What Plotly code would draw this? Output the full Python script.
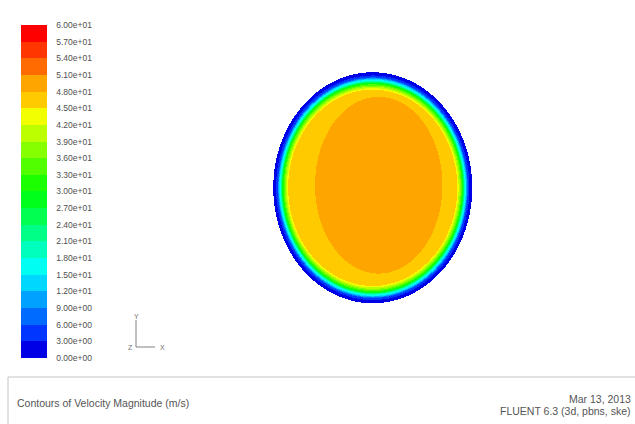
import numpy as np
import plotly.graph_objects as go

W, H = 635, 424

# ---------------- data ----------------
tick_values = [0, 3, 6, 9, 12, 15, 18, 21, 24, 27, 30, 33, 36, 39, 42, 45, 48, 51, 54, 57, 60]
tick_labels = ["0.00e+00", "3.00e+00", "6.00e+00", "9.00e+00", "1.20e+01", "1.50e+01",
               "1.80e+01", "2.10e+01", "2.40e+01", "2.70e+01", "3.00e+01", "3.30e+01",
               "3.60e+01", "3.90e+01", "4.20e+01", "4.50e+01", "4.80e+01", "5.10e+01",
               "5.40e+01", "5.70e+01", "6.00e+01"]
band_colors = ["#0000e6", "#0036ff", "#006bff", "#00a1ff", "#00d7ff",
               "#00fff2", "#00ffbc", "#00ff86", "#00ff51", "#00ff1b",
               "#1bff00", "#51ff00", "#86ff00", "#bcff00", "#f2ff00",
               "#ffca00", "#ffa500", "#ff6b00", "#ff3600", "#ff0000"]

# velocity profile across the wall layer (normalised radius -> m/s)
profile_r = [0.0, 0.85, 0.875, 0.895, 0.91, 0.925, 0.935, 0.955, 0.972, 1.0]
profile_v = [47.0, 45.0, 39.0, 33.0, 27.0, 18.0, 15.0, 6.0, 3.0, 0.0]
# high-velocity core (normalised centre / semi-axes) and its magnitude
core_center = (0.06, 0.022)
core_semi = (0.64, 0.765)
core_v = 49.5

# ---------------- field ----------------
nx, ny = 398, 462
dx, dy = 2.0 / nx, 2.0 / ny
xs = np.linspace(-1 + dx / 2, 1 - dx / 2, nx)
ys = np.linspace(-1 + dy / 2, 1 - dy / 2, ny)
X, Y = np.meshgrid(xs, ys)
R = np.sqrt(X ** 2 + Y ** 2)
Z = np.interp(R, profile_r, profile_v)
core = ((X - core_center[0]) / core_semi[0]) ** 2 + ((Y - core_center[1]) / core_semi[1]) ** 2 <= 1
Z[core] = core_v
Z[R > 1] = np.nan
Z = np.round(Z, 2)

n = len(band_colors)
colorscale = []
for k, c in enumerate(band_colors):
    colorscale.append([k / n, c])
    colorscale.append([(k + 1) / n, c])

fig = go.Figure()
fig.add_trace(go.Heatmap(
    x=xs, y=ys, z=Z, zmin=0, zmax=60, zsmooth=False,
    colorscale=colorscale, hoverinfo="skip",
    colorbar=dict(
        x=21 / W, xanchor="left", xpad=0,
        y=1 - 25 / H, yanchor="top", ypad=0,
        thickness=26, thicknessmode="pixels",
        len=333, lenmode="pixels",
        outlinewidth=0,
        tickmode="array", tickvals=tick_values, ticktext=tick_labels,
        ticks="outside", ticklen=8, tickcolor="rgba(0,0,0,0)",
        tickfont=dict(family="Liberation Sans", size=8.5, color="#505050"),
    ),
))


def px(x):
    return x / W


def py(y):
    return 1 - y / H


shapes = [
    dict(type="line", xref="paper", yref="paper", x0=px(8), x1=1, y0=py(377), y1=py(377),
         line=dict(color="#c4c4c4", width=1)),
    dict(type="line", xref="paper", yref="paper", x0=px(8), x1=px(8), y0=py(377), y1=0,
         line=dict(color="#c4c4c4", width=1)),
    dict(type="line", xref="paper", yref="paper", x0=px(136), x1=px(136), y0=py(320), y1=py(347),
         line=dict(color="#808080", width=1)),
    dict(type="line", xref="paper", yref="paper", x0=px(136), x1=px(155), y0=py(347), y1=py(347),
         line=dict(color="#808080", width=1)),
]

small = dict(family="Liberation Sans", size=7, color="#707070")
txt = dict(family="Liberation Sans", size=10.5, color="#555555")
annotations = [
    dict(text="Y", x=px(136), y=py(316), xref="paper", yref="paper", showarrow=False,
         xanchor="center", yanchor="middle", font=small),
    dict(text="X", x=px(158), y=py(347), xref="paper", yref="paper", showarrow=False,
         xanchor="left", yanchor="middle", font=small),
    dict(text="Z", x=px(135), y=py(347), xref="paper", yref="paper", showarrow=False,
         xanchor="right", yanchor="middle", font=small),
    dict(text="Contours of Velocity Magnitude (m/s)", x=px(15), y=py(403), xref="paper", yref="paper",
         showarrow=False, xanchor="left", yanchor="middle", font=txt),
    dict(text="Mar 13, 2013", x=px(633), y=py(399), xref="paper", yref="paper",
         showarrow=False, xanchor="right", yanchor="middle", font=txt),
    dict(text="FLUENT 6.3 (3d, pbns, ske)", x=px(633), y=py(411), xref="paper", yref="paper",
         showarrow=False, xanchor="right", yanchor="middle", font=txt),
]

fig.update_layout(
    width=W, height=H,
    margin=dict(l=0, r=0, t=0, b=0),
    paper_bgcolor="white", plot_bgcolor="white",
    xaxis=dict(domain=[273 / W, 472 / W], range=[-1, 1], visible=False, fixedrange=True),
    yaxis=dict(domain=[1 - 303 / H, 1 - 72 / H], range=[-1, 1], visible=False, fixedrange=True),
    shapes=shapes, annotations=annotations, showlegend=False,
)

fig.write_html("out.html", config={"displayModeBar": False},
               post_script="document.body.style.margin='0';document.body.style.overflow='hidden';")
